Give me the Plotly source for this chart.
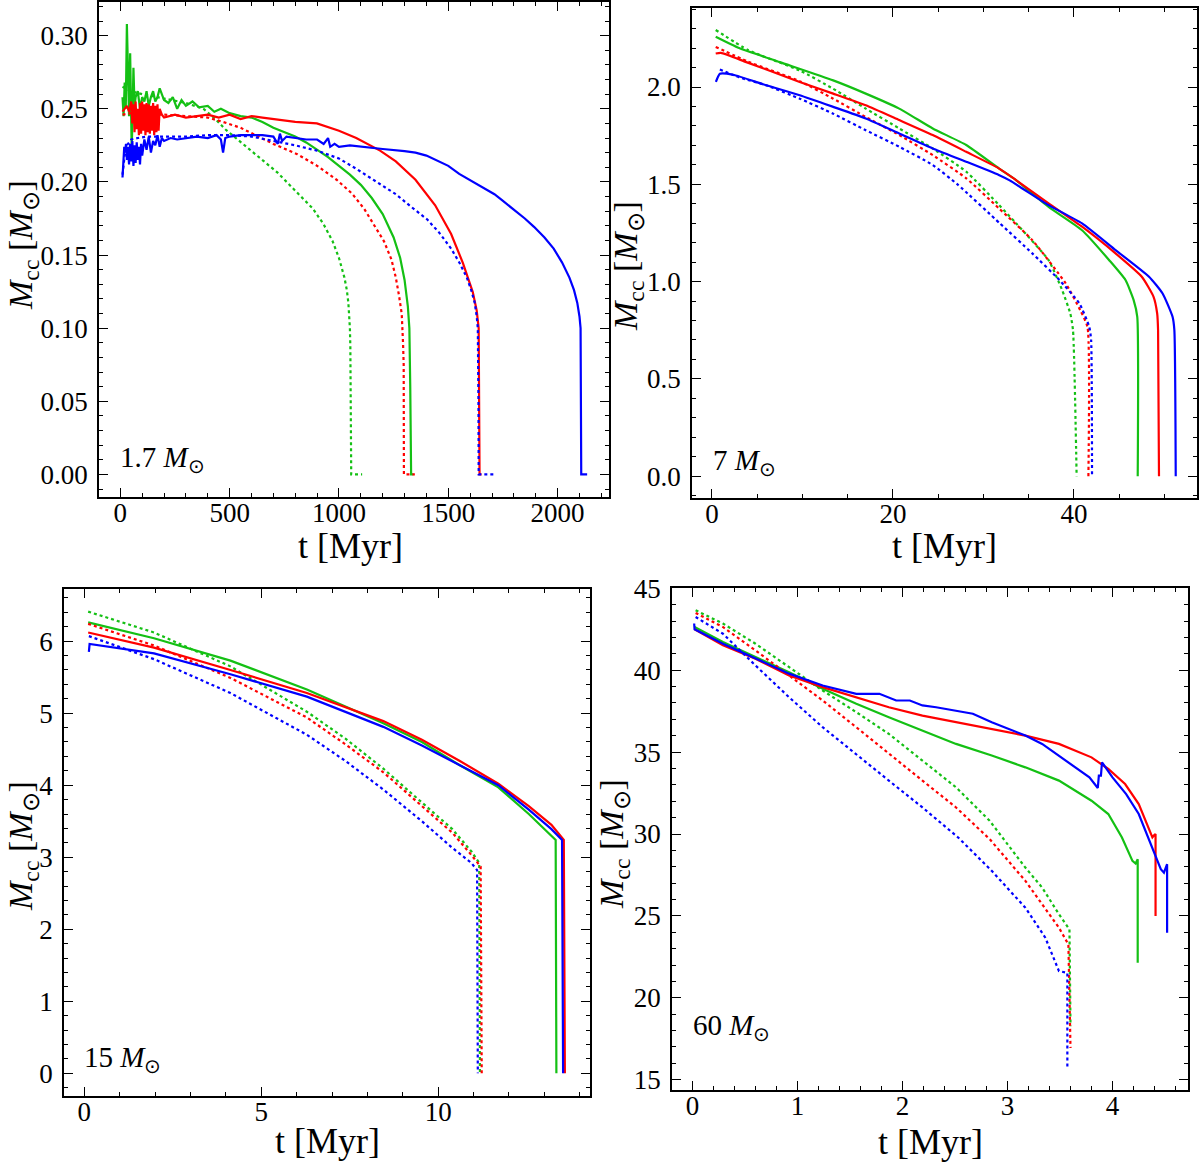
import plotly.graph_objects as go

GREEN = "#14c014"
RED = "#ff0000"
BLUE = "#0000ff"

# ---------------- Panel 1: 1.7 Msun ----------------
p1_green_solid_t = [10, 15, 20, 25, 30, 35, 40, 45, 50, 52, 55, 60, 65, 70, 80, 90, 100, 110, 120, 130, 140, 150,
                    160, 170, 180, 200, 220, 240, 260, 280, 300, 330, 360, 400, 430, 460, 500, 550, 600, 650, 700,
                    750, 800, 850, 900, 950, 1000, 1050, 1100, 1150, 1200, 1250, 1280, 1300, 1315, 1322, 1326, 1328,
                    1330, 1340]
p1_green_solid_y = [0.258, 0.245, 0.268, 0.250, 0.308, 0.262, 0.245, 0.288, 0.255, 0.222, 0.240, 0.278, 0.252, 0.258,
                    0.262, 0.250, 0.258, 0.255, 0.262, 0.252, 0.258, 0.262, 0.255, 0.258, 0.264, 0.256, 0.254, 0.258,
                    0.250, 0.256, 0.252, 0.255, 0.251, 0.252, 0.248, 0.250, 0.247, 0.245, 0.244, 0.241, 0.237, 0.234,
                    0.231, 0.227, 0.222, 0.217, 0.211, 0.205, 0.198, 0.189, 0.178, 0.162, 0.148, 0.133, 0.115, 0.100,
                    0.060, 0.020, 0.0, 0.0]
p1_green_dot_t = [10, 50, 100, 200, 300, 380, 430, 480, 538, 620, 718, 800, 881, 930, 971, 1000, 1025, 1036, 1043,
                  1050, 1052, 1056, 1106]
p1_green_dot_y = [0.265, 0.262, 0.260, 0.257, 0.254, 0.250, 0.2437, 0.236, 0.2288, 0.219, 0.2065, 0.194, 0.1817,
                  0.171, 0.1594, 0.148, 0.1346, 0.126, 0.1173, 0.100, 0.0875, 0.0, 0.0]
p1_red_solid_t = [10, 20, 30, 40, 50, 55, 60, 65, 70, 75, 80, 85, 90, 95, 100, 105, 110, 115, 120, 125, 130, 135, 140,
                  145, 150, 155, 160, 165, 170, 175, 180, 190, 200, 250, 300, 350, 400, 450, 500, 550, 600, 650, 700,
                  750, 800, 899, 1000, 1079, 1188, 1260, 1350, 1440, 1513, 1567, 1612, 1630, 1639, 1643, 1652]
p1_red_solid_y = [0.248, 0.250, 0.252, 0.248, 0.255, 0.240, 0.253, 0.234, 0.255, 0.236, 0.250, 0.232, 0.254, 0.233,
                  0.255, 0.235, 0.253, 0.232, 0.254, 0.234, 0.253, 0.233, 0.252, 0.235, 0.254, 0.232, 0.252, 0.234,
                  0.253, 0.235, 0.250, 0.246, 0.244, 0.246, 0.244, 0.245, 0.246, 0.244, 0.246, 0.243, 0.245, 0.244,
                  0.243, 0.242, 0.241, 0.240, 0.235, 0.230, 0.2214, 0.214, 0.2015, 0.184, 0.1644, 0.1445, 0.1247,
                  0.112, 0.100, 0.0, 0.0]
p1_red_dot_t = [10, 50, 100, 200, 300, 400, 466, 550, 628, 700, 809, 900, 989, 1060, 1115, 1160, 1206, 1240, 1260,
                1275, 1287, 1293, 1296, 1297, 1347]
p1_red_dot_y = [0.246, 0.247, 0.246, 0.246, 0.245, 0.244, 0.2412, 0.237, 0.2313, 0.226, 0.219, 0.211, 0.2015, 0.192,
                0.1817, 0.171, 0.1594, 0.147, 0.1346, 0.122, 0.1098, 0.090, 0.075, 0.0, 0.0]
p1_blue_solid_t = [10, 14, 18, 22, 26, 30, 35, 40, 45, 50, 55, 60, 65, 70, 75, 80, 85, 90, 95, 100, 110, 120, 130,
                   140, 150, 160, 170, 180, 190, 200, 230, 260, 300, 350, 400, 440, 460, 470, 480, 500, 550, 600, 650,
                   700, 720, 730, 740, 760, 800, 850, 900, 930, 950, 960, 980, 1000, 1050, 1100, 1150, 1200, 1300,
                   1350, 1400, 1450, 1500, 1550, 1600, 1650, 1711, 1750, 1800, 1850, 1892, 1940, 1982, 2020, 2054,
                   2075, 2090, 2100, 2105, 2107, 2108, 2135]
p1_blue_solid_y = [0.203, 0.218, 0.224, 0.220, 0.226, 0.215, 0.224, 0.212, 0.226, 0.214, 0.228, 0.211, 0.225, 0.213,
                   0.227, 0.215, 0.224, 0.212, 0.226, 0.218, 0.229, 0.222, 0.231, 0.220, 0.228, 0.225, 0.232, 0.224,
                   0.230, 0.228, 0.230, 0.229, 0.230, 0.231, 0.230, 0.232, 0.229, 0.220, 0.230, 0.231, 0.232, 0.232,
                   0.232, 0.231, 0.226, 0.233, 0.228, 0.231, 0.230, 0.229, 0.229, 0.226, 0.230, 0.224, 0.226, 0.224,
                   0.225, 0.224, 0.223, 0.2225, 0.221, 0.220, 0.218, 0.2145, 0.211, 0.2055, 0.201, 0.1965, 0.1916,
                   0.187, 0.181, 0.175, 0.1693, 0.162, 0.1544, 0.145, 0.1346, 0.126, 0.1173, 0.108, 0.100, 0.050,
                   0.0, 0.0]
p1_blue_dot_t = [10, 20, 30, 50, 80, 120, 200, 300, 400, 500, 600, 718, 800, 899, 1000, 1079, 1160, 1260, 1330, 1404,
                 1460, 1513, 1550, 1585, 1605, 1621, 1630, 1635, 1638, 1639, 1711]
p1_blue_dot_y = [0.205, 0.218, 0.225, 0.229, 0.230, 0.231, 0.231, 0.231, 0.232, 0.232, 0.231, 0.2276, 0.225, 0.2214,
                 0.216, 0.209, 0.201, 0.1916, 0.183, 0.1743, 0.165, 0.1544, 0.145, 0.1346, 0.126, 0.1173, 0.108,
                 0.100, 0.050, 0.0, 0.0]

# ---------------- Panel 2: 7 Msun ----------------
p2_green_solid_t = [0.42, 3, 7.5, 13.4, 17.0, 20.7, 24.4, 28.1, 31.7, 33.6, 37.2, 40.9, 43.9, 45.7, 46.6, 47.0, 47.05]
p2_green_solid_y = [2.258, 2.20, 2.128, 2.034, 1.966, 1.889, 1.787, 1.702, 1.582, 1.522, 1.384, 1.264, 1.11, 1.008,
                    0.905, 0.819, 0.0]
p2_green_dot_t = [0.42, 4, 9.7, 13.4, 17.0, 20.7, 24.4, 28.1, 31.7, 33.6, 37.2, 38.7, 39.6, 39.9, 40.3]
p2_green_dot_y = [2.293, 2.19, 2.085, 1.991, 1.889, 1.787, 1.684, 1.565, 1.395, 1.30, 1.11, 0.956, 0.836, 0.75, 0.0]
p2_red_solid_t = [0.42, 1.0, 3.8, 9.7, 13.4, 17.0, 20.7, 24.4, 28.1, 31.7, 33.6, 37.2, 40.9, 44.6, 47.5, 48.8, 49.2,
                  49.3, 49.4]
p2_red_solid_y = [2.172, 2.175, 2.128, 2.026, 1.966, 1.906, 1.83, 1.753, 1.667, 1.582, 1.522, 1.402, 1.282, 1.145,
                  1.025, 0.922, 0.836, 0.75, 0.0]
p2_red_dot_t = [0.42, 4, 9.7, 13.4, 17.0, 20.7, 24.4, 28.1, 31.7, 35.4, 39.1, 40.7, 41.5, 41.6]
p2_red_dot_y = [2.206, 2.13, 2.03, 1.94, 1.846, 1.753, 1.65, 1.531, 1.377, 1.213, 0.99, 0.853, 0.767, 0.0]
p2_blue_solid_t = [0.44, 0.88, 2.35, 6.0, 9.7, 13.4, 17.0, 20.7, 24.4, 28.1, 31.7, 32.9, 37.2, 40.9, 44.6, 48.3,
                   49.8, 50.9, 51.1, 51.25]
p2_blue_solid_y = [2.026, 2.068, 2.063, 2.009, 1.958, 1.898, 1.838, 1.761, 1.684, 1.616, 1.548, 1.52, 1.393, 1.299,
                   1.162, 1.025, 0.939, 0.819, 0.75, 0.0]
p2_blue_dot_t = [0.88, 3, 6.0, 9.7, 13.4, 17.0, 20.7, 24.4, 27.2, 31.8, 35.4, 38.4, 40.6, 41.7, 41.9, 42.0]
p2_blue_dot_y = [2.09, 2.05, 2.009, 1.94, 1.863, 1.778, 1.693, 1.599, 1.497, 1.30, 1.145, 1.008, 0.888, 0.767, 0.70,
                 0.0]

# ---------------- Panel 3: 15 Msun ----------------
p3_green_solid_t = [0.11, 1.97, 4.13, 6.29, 8.45, 9.54, 10.6, 11.7, 12.56, 12.99, 13.32, 13.34]
p3_green_solid_y = [6.26, 6.04, 5.73, 5.33, 4.86, 4.60, 4.28, 3.97, 3.60, 3.39, 3.24, 0.0]
p3_green_dot_t = [0.11, 1.97, 4.13, 6.29, 7.37, 8.45, 9.54, 10.4, 10.94, 11.16, 11.18]
p3_green_dot_y = [6.41, 6.12, 5.65, 5.02, 4.65, 4.23, 3.76, 3.39, 3.08, 2.92, 0.0]
p3_red_solid_t = [0.11, 1.97, 4.13, 6.29, 8.45, 9.54, 10.6, 11.7, 12.56, 13.2, 13.55, 13.58]
p3_red_solid_y = [6.12, 5.91, 5.60, 5.28, 4.89, 4.63, 4.34, 4.02, 3.71, 3.45, 3.24, 0.0]
p3_red_dot_t = [0.11, 1.97, 4.13, 6.29, 7.37, 8.45, 9.54, 10.4, 10.94, 11.2, 11.23]
p3_red_dot_y = [6.24, 5.94, 5.49, 4.94, 4.57, 4.18, 3.71, 3.34, 3.03, 2.87, 0.0]
p3_blue_solid_t = [0.13, 0.15, 1.97, 4.13, 6.29, 8.45, 9.54, 10.6, 11.7, 12.56, 13.2, 13.5, 13.53]
p3_blue_solid_y = [5.85, 5.96, 5.83, 5.54, 5.23, 4.81, 4.55, 4.28, 4.00, 3.66, 3.39, 3.24, 0.0]
p3_blue_dot_t = [0.13, 1.97, 4.13, 6.29, 7.37, 8.45, 9.54, 10.4, 10.94, 11.1, 11.12]
p3_blue_dot_y = [6.07, 5.75, 5.28, 4.70, 4.34, 3.94, 3.50, 3.13, 2.92, 2.82, 0.0]

# ---------------- Panel 4: 60 Msun ----------------
p4_green_solid_t = [0.02, 0.29, 0.6, 0.92, 1.24, 1.56, 1.87, 2.19, 2.51, 2.85, 3.17, 3.49, 3.80, 3.96, 4.09, 4.19,
                    4.22, 4.24, 4.24]
p4_green_solid_y = [42.64, 41.72, 40.8, 39.88, 38.87, 37.95, 37.13, 36.32, 35.5, 34.79, 34.07, 33.26, 32.03, 31.22,
                    29.79, 28.36, 28.2, 28.46, 22.14]
p4_green_dot_t = [0.03, 0.29, 0.6, 0.92, 1.24, 1.56, 1.87, 2.19, 2.51, 2.83, 3.17, 3.33, 3.49, 3.59, 3.60]
p4_green_dot_y = [43.66, 42.85, 41.62, 40.19, 38.76, 37.44, 36.11, 34.48, 32.85, 30.81, 27.95, 26.73, 25.1, 24.18,
                  18.26]
p4_red_solid_t = [0.02, 0.29, 0.6, 0.92, 1.24, 1.56, 1.87, 2.19, 2.51, 2.83, 3.17, 3.49, 3.80, 3.96, 4.12, 4.25,
                  4.33, 4.38, 4.40, 4.41, 4.41]
p4_red_solid_y = [42.5, 41.52, 40.7, 39.68, 38.97, 38.35, 37.74, 37.23, 36.82, 36.42, 36.01, 35.5, 34.68, 33.97,
                  33.05, 31.83, 30.61, 29.79, 29.95, 30.0, 25.0]
p4_red_dot_t = [0.03, 0.29, 0.6, 0.92, 1.24, 1.56, 1.87, 2.19, 2.51, 2.83, 3.17, 3.33, 3.49, 3.58, 3.60]
p4_red_dot_y = [43.5, 42.64, 41.21, 39.68, 38.15, 36.52, 34.89, 33.26, 31.62, 29.69, 27.14, 25.71, 24.28, 23.26,
                16.93]
p4_blue_solid_t = [0.016, 0.02, 0.29, 0.6, 0.92, 1.24, 1.56, 1.78, 1.94, 2.07, 2.19, 2.32, 2.51, 2.67, 2.85, 3.17,
                   3.33, 3.49, 3.65, 3.78, 3.86, 3.87, 3.89, 3.90, 4.0, 4.13, 4.25, 4.38, 4.46, 4.49, 4.52, 4.52]
p4_blue_solid_y = [42.85, 42.5, 41.62, 40.7, 39.79, 39.07, 38.56, 38.56, 38.15, 38.15, 37.85, 37.74, 37.54, 37.34,
                   36.82, 36.01, 35.5, 34.79, 34.07, 33.46, 32.81, 33.56, 33.56, 34.38, 33.46, 32.44, 31.22, 29.17,
                   27.85, 27.64, 28.16, 23.97]
p4_blue_dot_t = [0.03, 0.29, 0.6, 0.92, 1.24, 1.56, 1.87, 2.19, 2.53, 2.85, 3.17, 3.36, 3.49, 3.57, 3.57]
p4_blue_dot_y = [43.25, 42.23, 40.29, 38.35, 36.52, 34.89, 33.26, 31.62, 29.79, 27.75, 25.5, 23.67, 21.63, 21.52,
                 15.71]

panel_labels = ["1.7 <i>M</i><sub>⊙</sub>", "7 <i>M</i><sub>⊙</sub>", "15 <i>M</i><sub>⊙</sub>",
                "60 <i>M</i><sub>⊙</sub>"]
x_title = "t [Myr]"
y_title = "<i>M</i><sub>cc</sub> [<i>M</i><sub>⊙</sub>]"

FONT = "Liberation Serif"
W, H = 1200, 1166

fig = go.Figure()

panels = [
    ("x", "y", "linear",
     [(p1_green_solid_t, p1_green_solid_y, GREEN, "solid"), (p1_green_dot_t, p1_green_dot_y, GREEN, "dot"),
      (p1_red_solid_t, p1_red_solid_y, RED, "solid"), (p1_red_dot_t, p1_red_dot_y, RED, "dot"),
      (p1_blue_solid_t, p1_blue_solid_y, BLUE, "solid"), (p1_blue_dot_t, p1_blue_dot_y, BLUE, "dot")]),
    ("x2", "y2", "spline",
     [(p2_green_solid_t, p2_green_solid_y, GREEN, "solid"), (p2_green_dot_t, p2_green_dot_y, GREEN, "dot"),
      (p2_red_solid_t, p2_red_solid_y, RED, "solid"), (p2_red_dot_t, p2_red_dot_y, RED, "dot"),
      (p2_blue_solid_t, p2_blue_solid_y, BLUE, "solid"), (p2_blue_dot_t, p2_blue_dot_y, BLUE, "dot")]),
    ("x3", "y3", "linear",
     [(p3_green_solid_t, p3_green_solid_y, GREEN, "solid"), (p3_green_dot_t, p3_green_dot_y, GREEN, "dot"),
      (p3_red_solid_t, p3_red_solid_y, RED, "solid"), (p3_red_dot_t, p3_red_dot_y, RED, "dot"),
      (p3_blue_solid_t, p3_blue_solid_y, BLUE, "solid"), (p3_blue_dot_t, p3_blue_dot_y, BLUE, "dot")]),
    ("x4", "y4", "linear",
     [(p4_green_solid_t, p4_green_solid_y, GREEN, "solid"), (p4_green_dot_t, p4_green_dot_y, GREEN, "dot"),
      (p4_red_solid_t, p4_red_solid_y, RED, "solid"), (p4_red_dot_t, p4_red_dot_y, RED, "dot"),
      (p4_blue_solid_t, p4_blue_solid_y, BLUE, "solid"), (p4_blue_dot_t, p4_blue_dot_y, BLUE, "dot")]),
]

for xa, ya, shape, series in panels:
    for t, y, c, d in series:
        line = dict(color=c, width=2.2, dash=("3px,3px" if d == "dot" else "solid"), shape=shape)
        if shape == "spline":
            line["smoothing"] = 0.5
        fig.add_trace(go.Scatter(x=t, y=y, mode="lines", xaxis=xa, yaxis=ya, showlegend=False, line=line))

# panel boxes in pixels: (left, right, top, bottom)
boxes = [(99, 609, 2, 497), (692, 1197, 8, 498), (64, 590, 589, 1096), (672, 1188, 588, 1090)]
xranges = [[-97.5, 2235], [-2.2, 53.6], [-0.573, 14.29], [-0.195, 4.719]]
yranges = [[-0.0154, 0.323], [-0.112, 2.406], [-0.315, 6.724], [14.37, 45.02]]
xdticks = [500, 20, 5, 1]
xminor = [100, 5, 1, 0.2]
ydticks = [0.05, 0.5, 1, 5]
yminor = [0.01, 0.1, 0.2, 1]
yfmts = [".2f", ".1f", "d", "d"]

axis_common = dict(showgrid=False, zeroline=False, showline=True, linecolor="black", linewidth=1.5,
                   mirror="allticks", ticks="inside", ticklen=9, tickwidth=1.3, tickcolor="black",
                   automargin=False, tickfont=dict(family=FONT, size=27, color="black"))

for i, (l, r, tp, b) in enumerate(boxes):
    sfx = "" if i == 0 else str(i + 1)
    xd = [l / W, r / W]
    yd = [1 - b / H, 1 - tp / H]
    fig.layout["xaxis" + sfx] = dict(domain=xd, range=xranges[i], dtick=xdticks[i], tick0=0,
                                     anchor="y" + sfx, ticklabelstandoff=-9,
                                     minor=dict(dtick=xminor[i], tick0=0, ticks="inside", ticklen=4.5,
                                                tickwidth=1.2, tickcolor="black"),
                                     **axis_common)
    fig.layout["yaxis" + sfx] = dict(domain=yd, range=yranges[i], dtick=ydticks[i], tick0=0,
                                     anchor="x" + sfx, tickformat=yfmts[i], ticklabelstandoff=4,
                                     minor=dict(dtick=yminor[i], tick0=0, ticks="inside", ticklen=4.5,
                                                tickwidth=1.2, tickcolor="black"),
                                     **axis_common)

annotations = []
label_pos = [(118, 459), (711, 462), (82, 1059), (691, 1027)]
for (lx, ly), txt in zip(label_pos, panel_labels):
    annotations.append(dict(text=txt, xref="paper", yref="paper", x=lx / W, y=1 - ly / H, xanchor="left",
                            yanchor="middle", showarrow=False, font=dict(family=FONT, size=29, color="black")))
xt_pos = [(350, 546), (944, 546), (327, 1141), (930, 1142)]
for px, py in xt_pos:
    annotations.append(dict(text=x_title, xref="paper", yref="paper", x=px / W, y=1 - py / H, xanchor="center",
                            yanchor="middle", showarrow=False, font=dict(family=FONT, size=36, color="black")))
yt_pos = [(23, 245), (628, 266), (23, 846), (614, 844)]
for px, py in yt_pos:
    annotations.append(dict(text=y_title, xref="paper", yref="paper", x=px / W, y=1 - py / H, xanchor="center",
                            yanchor="middle", textangle=-90, showarrow=False,
                            font=dict(family=FONT, size=34, color="black")))

fig.update_layout(width=W, height=H, margin=dict(l=0, r=0, t=0, b=0, pad=0, autoexpand=False),
                  paper_bgcolor="white", plot_bgcolor="white", annotations=annotations)

fig.write_html("out.html", config={"displayModeBar": False},
               post_script="var d=document.getElementById('{plot_id}');"
                           "d.style.position='absolute';d.style.top='0px';d.style.left='0px';"
                           "document.body.style.margin='0';document.body.style.padding='0';"
                           "document.documentElement.style.overflow='hidden';")
